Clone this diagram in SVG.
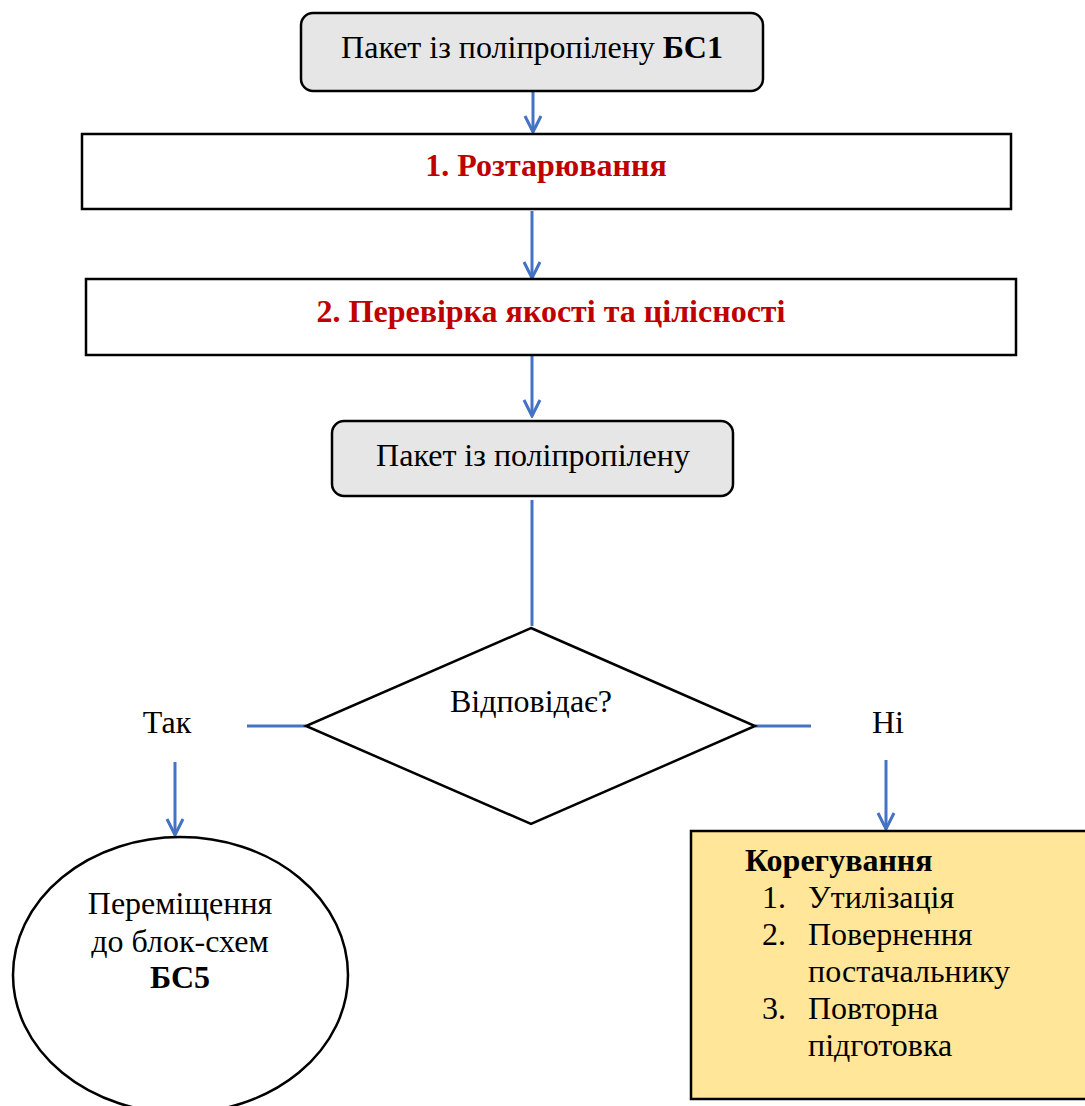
<svg xmlns="http://www.w3.org/2000/svg" width="1085" height="1106" viewBox="0 0 1085 1106">
<style>
.t{font-family:"Liberation Serif","Times New Roman",serif;font-size:32px;fill:#000}
.b{font-weight:bold}
.red{font-family:"Liberation Serif","Times New Roman",serif;font-size:32px;font-weight:bold;fill:#c00000}
.box{fill:#fff;stroke:#000;stroke-width:2.5}
.rbox{fill:#e6e6e6;stroke:#000;stroke-width:2.5}
.conn{stroke:#4472c4;stroke-width:3;fill:none}
</style>
<defs>
<marker id="arr" markerUnits="userSpaceOnUse" viewBox="-18 -10 20 20" markerWidth="20" markerHeight="20" refX="0" refY="0" orient="auto">
<path d="M-16,-8 L0,0 L-16,8" fill="none" stroke="#4472c4" stroke-width="3"/>
</marker>
</defs>
<rect width="1085" height="1106" fill="#fff"/>
<g id="connectors">
<line class="conn" x1="533" y1="91" x2="533" y2="132" marker-end="url(#arr)"/>
<line class="conn" x1="532" y1="211" x2="532" y2="278" marker-end="url(#arr)"/>
<line class="conn" x1="532" y1="356" x2="532" y2="416" marker-end="url(#arr)"/>
<line class="conn" x1="532" y1="500" x2="532" y2="626"/>
<line class="conn" x1="247" y1="726" x2="306" y2="726"/>
<line class="conn" x1="755" y1="726" x2="811" y2="726"/>
<line class="conn" x1="175" y1="762" x2="175" y2="835" marker-end="url(#arr)"/>
<line class="conn" x1="886" y1="760" x2="886" y2="829" marker-end="url(#arr)"/>
<text class="t" x="167" y="733" text-anchor="middle">Так</text>
<text class="t" x="888" y="733" text-anchor="middle">Ні</text>
</g>
<g id="start">
<rect class="rbox" x="301" y="13" width="462" height="78" rx="12"/>
<text class="t" x="532" y="58" text-anchor="middle">Пакет із поліпропілену <tspan class="b">БС1</tspan></text>
</g>
<g id="step1">
<rect class="box" x="82" y="134" width="929" height="75"/>
<text class="red" x="546" y="176" text-anchor="middle">1. Розтарювання</text>
</g>
<g id="step2">
<rect class="box" x="86" y="279" width="930" height="76"/>
<text class="red" x="551" y="322" text-anchor="middle">2. Перевірка якості та цілісності</text>
</g>
<g id="product">
<rect class="rbox" x="332" y="421" width="401" height="75" rx="12"/>
<text class="t" x="533" y="466" text-anchor="middle">Пакет із поліпропілену</text>
</g>
<g id="decision">
<polygon points="531,628 755,726 531,824 306,726" fill="#fff" stroke="#000" stroke-width="2.5"/>
<text class="t" x="531" y="712" text-anchor="middle">Відповідає?</text>
</g>
<g id="yes">
<ellipse cx="180.5" cy="975" rx="167.5" ry="138" fill="#fff" stroke="#000" stroke-width="2.5"/>
<text class="t" x="180" y="914" text-anchor="middle">Переміщення</text>
<text class="t" x="180" y="952" text-anchor="middle">до блок-схем</text>
<text class="t b" x="180" y="988" text-anchor="middle">БС5</text>
</g>
<g id="no">
<rect x="691" y="831" width="400" height="268" fill="#ffe699" stroke="#000" stroke-width="2.5"/>
<text class="t b" x="745" y="871">Корегування</text>
<text class="t" x="762" y="908">1.</text>
<text class="t" x="808" y="908">Утилізація</text>
<text class="t" x="762" y="945">2.</text>
<text class="t" x="808" y="945">Повернення</text>
<text class="t" x="808" y="982">постачальнику</text>
<text class="t" x="762" y="1019">3.</text>
<text class="t" x="808" y="1019">Повторна</text>
<text class="t" x="808" y="1056">підготовка</text>
</g>
</svg>
